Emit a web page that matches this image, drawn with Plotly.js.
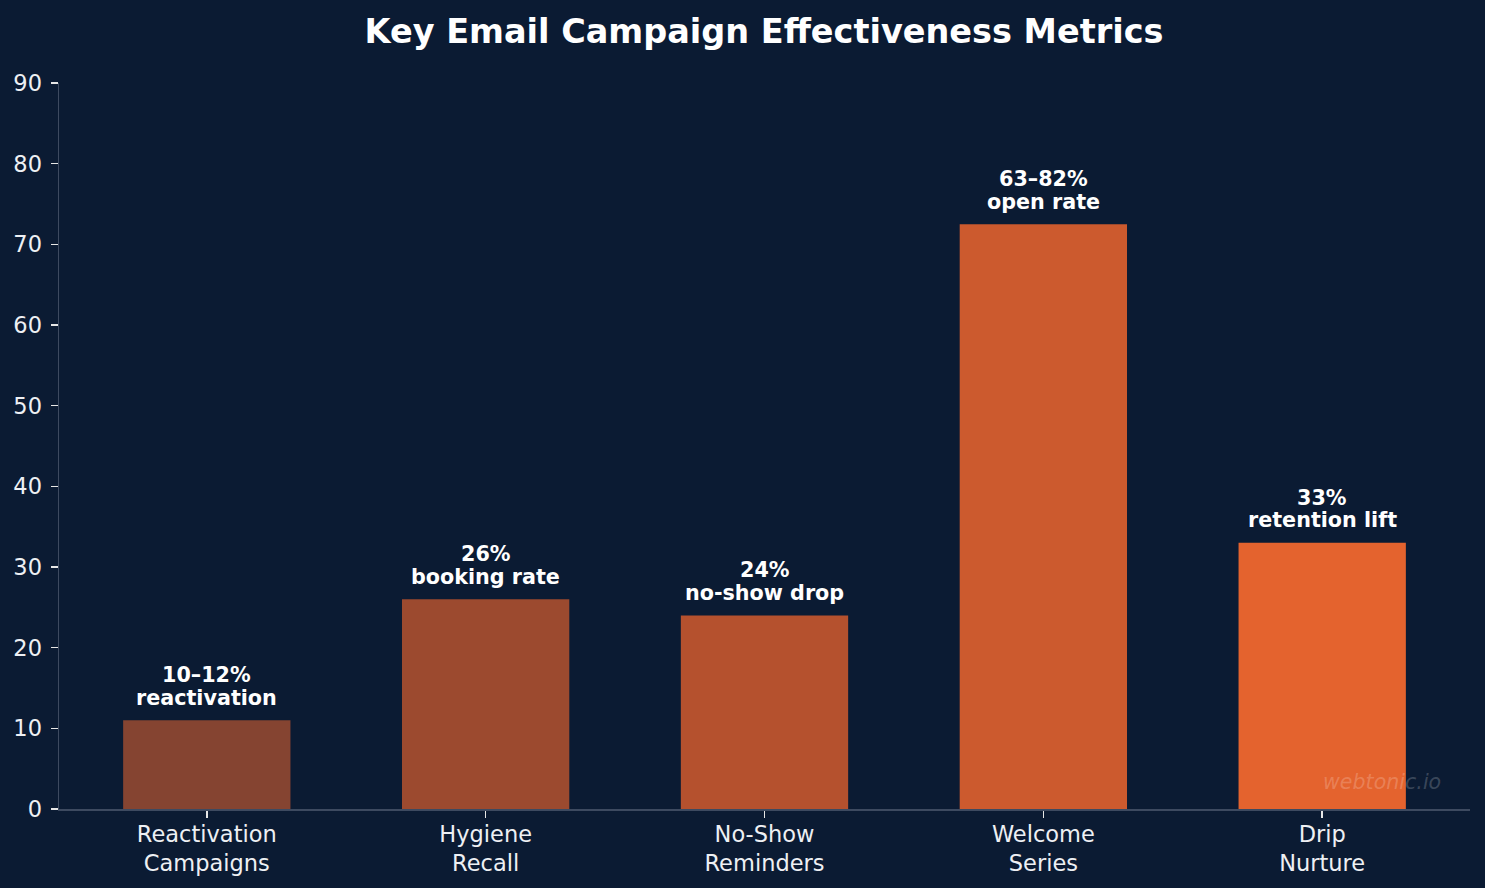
<!DOCTYPE html>
<html>
<head>
<meta charset="utf-8">
<script src="https://cdn.plot.ly/plotly-3.0.1.min.js"></script>
<style>html,body{margin:0;padding:0;background:#0b1b33;}#chart{width:1485px;height:888px;}</style>
</head>
<body>
<div id="chart"></div>
<script>
const categories = ["Reactivation<br>Campaigns", "Hygiene<br>Recall", "No-Show<br>Reminders", "Welcome<br>Series", "Drip<br>Nurture"];
const values = [11, 26, 24, 72.5, 33];
const barLabels = ["10–12%<br>reactivation", "26%<br>booking rate", "24%<br>no-show drop", "63–82%<br>open rate", "33%<br>retention lift"];
const barColors = ["#854431", "#9c4a2f", "#b5512e", "#cc5a2e", "#e4632e"];
const yTicks = [0, 10, 20, 30, 40, 50, 60, 70, 80, 90];

const bg = "#0b1b33";
const font = "DejaVu Sans, sans-serif";

const trace = {
  type: "bar",
  x: categories.map((_, i) => i),
  y: values,
  width: 0.6,
  marker: {color: barColors, line: {width: 0}},
  hoverinfo: "skip"
};

const annotations = [];
values.forEach((v, i) => {
  const lines = barLabels[i].split("<br>");
  lines.forEach((ln, j) => {
    annotations.push({
      x: i, y: v, xref: "x", yref: "y",
      text: "<b>" + ln + "</b>",
      showarrow: false, yanchor: "bottom", xanchor: "center",
      yshift: 8.5 + (lines.length - 1 - j) * 22.5,
      font: {family: font, size: 20.7, color: "#ffffff"}
    });
  });
});
annotations.push({
  xref: "paper", yref: "paper", x: 0.981, y: 0.018,
  xanchor: "right", yanchor: "bottom",
  text: "<i>webtonic.io</i>", showarrow: false,
  font: {family: font, size: 20.6, color: "rgba(255,255,255,0.2)"}
});

const layout = {
  width: 1485, height: 888,
  paper_bgcolor: bg, plot_bgcolor: bg,
  margin: {l: 59, r: 15, t: 83, b: 79},
  showlegend: false,
  bargap: 0.4,
  title: {
    text: "<b>Key Email Campaign Effectiveness Metrics</b>",
    font: {family: font, size: 33.5, color: "#ffffff"},
    x: 0.5145, xanchor: "center", y: 0.965, yanchor: "middle"
  },
  xaxis: {
    range: [-0.53, 4.53],
    tickmode: "array",
    tickvals: categories.map((_, i) => i),
    ticktext: categories,
    ticks: "outside", ticklen: 7, tickwidth: 1.5, tickcolor: "#e6e6e6",
    ticklabelstandoff: -3,
    tickfont: {family: font, size: 22.5, color: "#eef0f4"},
    showgrid: false, zeroline: false,
    showline: true, linecolor: "#3d4a60", linewidth: 1.5
  },
  yaxis: {
    range: [0, 90],
    tickmode: "array",
    tickvals: yTicks,
    ticktext: yTicks.map(String),
    ticks: "outside", ticklen: 7, tickwidth: 1.5, tickcolor: "#e6e6e6",
    ticklabelstandoff: 4,
    tickfont: {family: font, size: 22.5, color: "#eef0f4"},
    showgrid: false, zeroline: false,
    showline: true, linecolor: "#3d4a60", linewidth: 1.5
  },
  annotations: annotations
};

Plotly.newPlot("chart", [trace], layout, {displayModeBar: false, staticPlot: true});
</script>
</body>
</html>
